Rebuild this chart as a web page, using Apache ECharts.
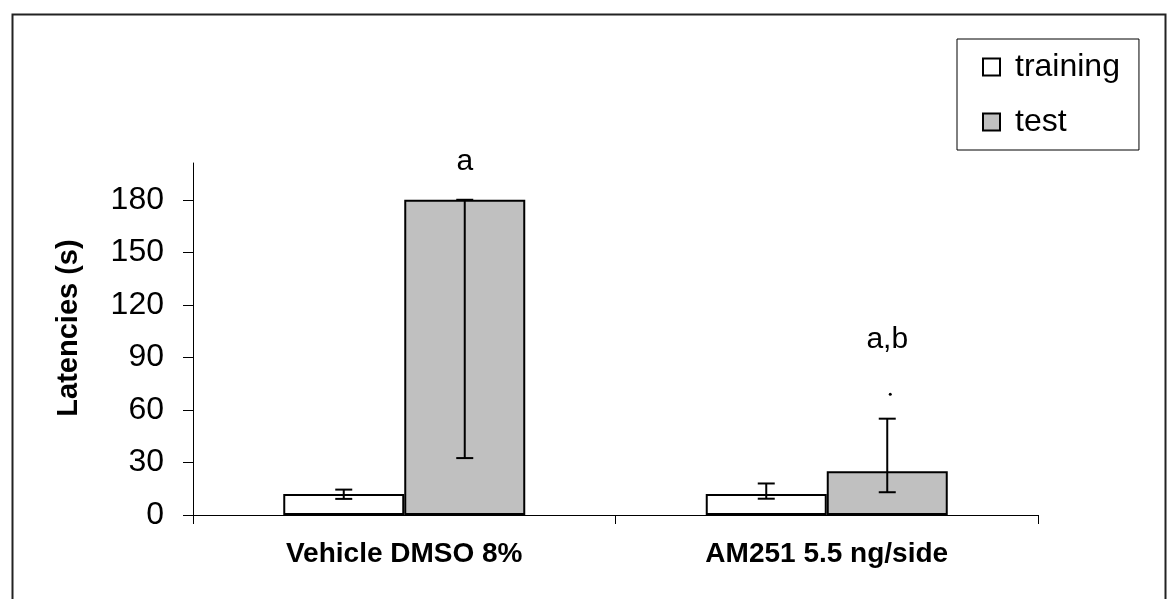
<!DOCTYPE html>
<html>
<head>
<meta charset="utf-8">
<script src="https://cdn.jsdelivr.net/npm/echarts@6/dist/echarts.min.js"></script>
<style>
  html, body { margin: 0; padding: 0; background: #fff; }
  #chart { width: 1168px; height: 599px; }
</style>
</head>
<body>
<div id="chart"></div>
<script>
var categories = ['Vehicle DMSO 8%', 'AM251 5.5 ng/side']
var seriesNames = ['training', 'test']
var trainingValues = [12, 12]
var testValues = [180, 25]
// error bar ends (low, high)
var trainingLow = [9.2, 9.3]
var trainingHigh = [14.5, 18]
var testLow = [32.5, 13]
var testHigh = [180, 55]
var yTicks = [0, 30, 60, 90, 120, 150, 180]
// letters above the test bars
var noteCats = [0, 1, 1]
var noteValues = [202, 100, 69]
var noteTexts = ['a', 'a,b', '.']

var FONT = 'Liberation Sans, Arial, sans-serif'
var BAR_W = 121

function errData(low, high) {
  return categories.map(function (c, i) { return [i, low[i], high[i]] })
}

// draws whisker + caps, shifted onto the bar of one series
function errorItem(side) {
  return function (params, api) {
    var i = api.value(0)
    var lo = api.coord([i, api.value(1)])
    var hi = api.coord([i, api.value(2)])
    var x = lo[0] + side * BAR_W / 2
    var cap = 8.5
    var style = { stroke: '#000', lineWidth: 2 }
    return {
      type: 'group',
      children: [
        { type: 'line', shape: { x1: x, y1: lo[1], x2: x, y2: hi[1] }, style: style },
        { type: 'line', shape: { x1: x - cap, y1: lo[1], x2: x + cap, y2: lo[1] }, style: style },
        { type: 'line', shape: { x1: x - cap, y1: hi[1], x2: x + cap, y2: hi[1] }, style: style }
      ]
    }
  }
}

var chart = echarts.init(document.getElementById('chart'))
chart.setOption({
  animation: false,
  backgroundColor: '#fff',
  graphic: [{
    type: 'rect',
    left: 10, top: 12,
    shape: { width: 1153, height: 600 },
    style: { fill: 'none', stroke: '#222', lineWidth: 2 },
    silent: true
  }],
  grid: { left: 193, right: 130, top: 163, bottom: 84, containLabel: false },
  legend: {
    data: seriesNames,
    orient: 'vertical',
    left: 957, top: 39,
    padding: [12, 19, 12, 25],
    itemGap: 23,
    itemWidth: 17, itemHeight: 17,
    icon: 'rect',
    selectedMode: false,
    borderColor: '#000', borderWidth: 1,
    textStyle: { fontFamily: FONT, fontSize: 32, lineHeight: 32, color: '#000', padding: [0, 0, 0, 10] }
  },
  xAxis: {
    type: 'category',
    data: categories,
    axisLine: { lineStyle: { color: '#000', width: 1 } },
    axisTick: { show: true, length: 9, lineStyle: { color: '#000' } },
    axisLabel: { fontFamily: FONT, fontSize: 28, fontWeight: 'bold', color: '#000', margin: 25 }
  },
  yAxis: {
    type: 'value',
    min: 0, max: 201, interval: 30,
    name: 'Latencies (s)',
    nameLocation: 'middle',
    nameGap: 110,
    nameTextStyle: { fontFamily: FONT, fontSize: 29, fontWeight: 'bold', color: '#000', padding: [0, 0, 0, 22] },
    axisLine: { show: true, lineStyle: { color: '#000', width: 1 } },
    axisTick: { show: true, length: 10, customValues: yTicks, lineStyle: { color: '#000' } },
    axisLabel: { fontFamily: FONT, fontSize: 32, color: '#000', margin: 29, customValues: yTicks },
    splitLine: { show: false }
  },
  series: [
    {
      name: 'training', type: 'bar', data: trainingValues,
      barWidth: BAR_W, barGap: '0%',
      itemStyle: { color: '#fff', borderColor: '#000', borderWidth: 2 }
    },
    {
      name: 'test', type: 'bar', data: testValues,
      barWidth: BAR_W, barGap: '0%',
      itemStyle: { color: '#c0c0c0', borderColor: '#000', borderWidth: 2 }
    },
    {
      type: 'custom', data: errData(trainingLow, trainingHigh),
      renderItem: errorItem(-1), z: 5, silent: true
    },
    {
      type: 'custom', data: errData(testLow, testHigh),
      renderItem: errorItem(1), z: 5, silent: true
    },
    {
      type: 'custom', z: 6, silent: true,
      data: noteCats.map(function (c, i) { return [c, noteValues[i], i] }),
      renderItem: function (params, api) {
        var p = api.coord([api.value(0), api.value(1)])
        var t = noteTexts[api.value(2)]
        var x = p[0] + BAR_W / 2
        if (t === '.') {
          return { type: 'circle', shape: { cx: x + 3, cy: p[1], r: 1.5 }, style: { fill: '#000' } }
        }
        return {
          type: 'text', x: x, y: p[1],
          style: { text: t, fontFamily: FONT, fontSize: 30, fill: '#000', align: 'center', verticalAlign: 'middle' }
        }
      }
    }
  ]
})
</script>
</body>
</html>
